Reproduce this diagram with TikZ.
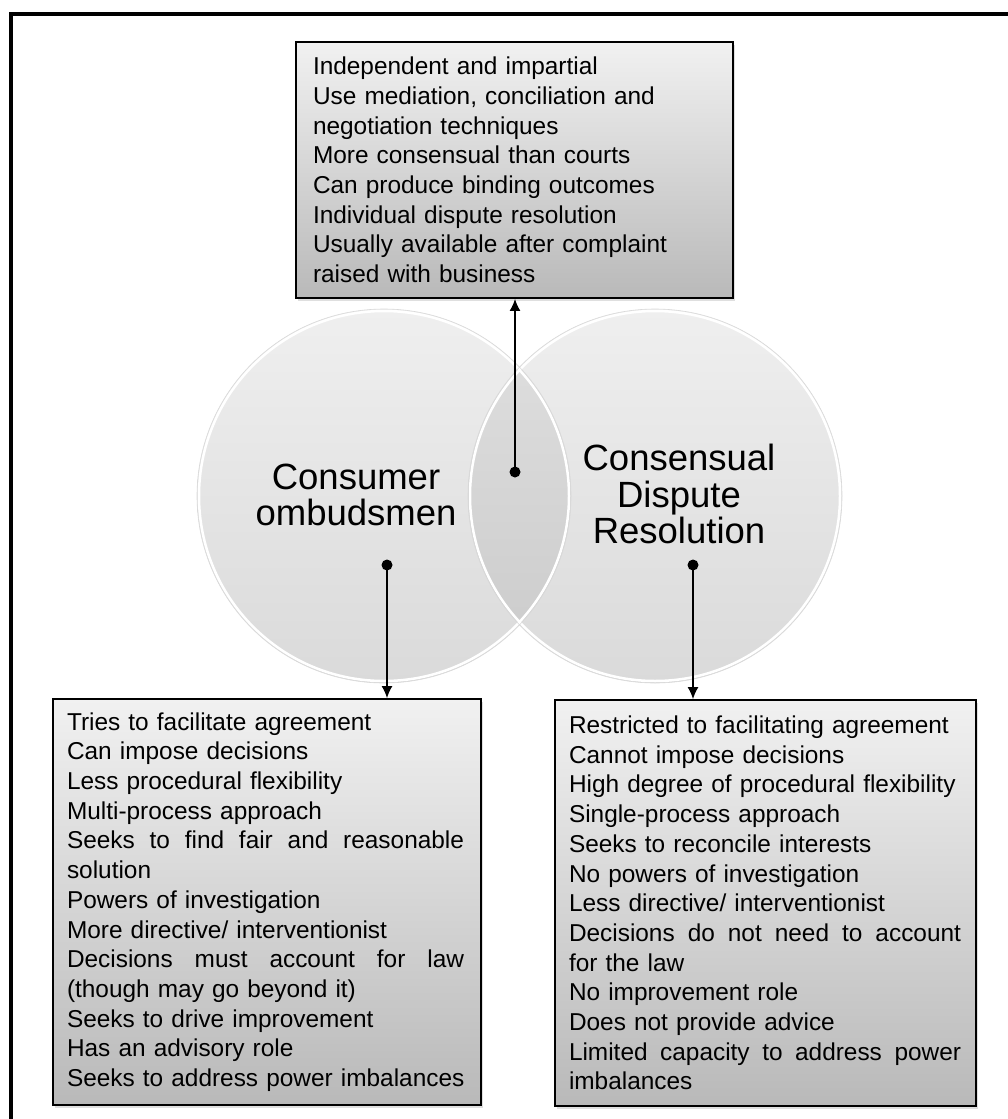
\documentclass[tikz,border=0pt]{standalone}
\usepackage{fontspec}
\setmainfont{Liberation Sans}
\usepackage{xcolor}
\usepackage{tikz}
\usetikzlibrary{arrows.meta,shadows}
\definecolor{boxtop}{HTML}{F1F1F1}
\definecolor{boxbot}{HTML}{B9B9B9}
\definecolor{circtop}{HTML}{EFEFEF}
\definecolor{circbot}{HTML}{DADADA}
\definecolor{lenstop}{HTML}{E0E0E0}
\definecolor{lensbot}{HTML}{CACACA}
% a justified line: words spread with \hfill over the given width
\newcommand{\jline}[2]{\makebox[#1][l]{#2}}

\begin{document}
\begin{tikzpicture}[x=1pt,y=-1pt,
  listbox/.style={draw,line width=1.8pt,top color=boxtop,bottom color=boxbot,
    align=left,inner sep=0pt,font={\fontsize{24.4}{29.7}\selectfont\hyphenpenalty=10000},
    drop shadow={opacity=0.25,shadow xshift=2pt,shadow yshift=-3pt}},
  bigtext/.style={align=center,inner sep=0pt,font={\fontsize{36.5}{36.8}\selectfont}},
  dot/.style={circle,fill,inner sep=0pt,minimum size=11pt},
  link/.style={-{Latex[length=12pt,width=11pt]},line width=1.6pt}]
  \useasboundingbox (0,0) rectangle (1008,1119);
  % frame, open to the right and below
  \draw[line width=4pt] (11,1119) -- (11,14) -- (1008,14);
  % the two circles
  \coordinate (comc) at (384,496);
  \coordinate (cdrc) at (655,496);
  \shade[top color=circtop,bottom color=circbot] (comc) circle (187);
  \shade[top color=circtop,bottom color=circbot] (cdrc) circle (187);
  \begin{scope}
    \clip (comc) circle (187);
    \shade[top color=lenstop,bottom color=lensbot] (cdrc) circle (187);
  \end{scope}
  \draw[white,line width=2.5pt] (comc) circle (185) (cdrc) circle (185);
  \draw[gray!30,line width=0.6pt] (comc) circle (187) (cdrc) circle (187);
  \node[bigtext] (comlabel) at (356,495) {Consumer\\ombudsmen};
  \node[bigtext] (cdrlabel) at (679,494) {Consensual\\Dispute\\Resolution};
  % boxes
  \node[listbox,minimum width=437pt,minimum height=256pt,text width=403pt]
    (shared) at (514.5,170) {Independent and impartial\\
    Use mediation, conciliation and\\
    negotiation techniques\\
    More consensual than courts\\
    Can produce binding outcomes\\
    Individual dispute resolution\\
    Usually available after complaint\\
    raised with business};
  \node[listbox,minimum width=428pt,minimum height=406pt,text width=400pt]
    (combox) at (267,902) {Tries to facilitate agreement\\
    Can impose decisions\\
    Less procedural flexibility\\
    Multi-process approach\\
    \jline{397pt}{Seeks\hfill to\hfill find\hfill fair\hfill and\hfill reasonable}\\
    solution\\
    Powers of investigation\\
    More directive/ interventionist\\
    \jline{397pt}{Decisions\hfill must\hfill account\hfill for\hfill law}\\
    (though may go beyond it)\\
    Seeks to drive improvement\\
    Has an advisory role\\
    Seeks to address power imbalances};
  \node[listbox,minimum width=421pt,minimum height=406pt,text width=393pt]
    (cdrbox) at (765.5,903) {Restricted to facilitating agreement\\
    Cannot impose decisions\\
    High degree of procedural flexibility\\
    Single-process approach\\
    Seeks to reconcile interests\\
    No powers of investigation\\
    Less directive/ interventionist\\
    \jline{392pt}{Decisions\hfill do\hfill not\hfill need\hfill to\hfill account}\\
    for the law\\
    No improvement role\\
    Does not provide advice\\
    \jline{392pt}{Limited\hfill capacity\hfill to\hfill address\hfill power}\\
    imbalances};
  % dots and arrows
  \node[dot] (dmid) at (515,472) {};
  \node[dot] (dcom) at (387,565) {};
  \node[dot] (dcdr) at (693,565) {};
  \draw[link] (dmid.center) -- (dmid |- shared.south);
  \draw[link] (dcom.center) -- (dcom |- combox.north);
  \draw[link] (dcdr.center) -- (dcdr |- cdrbox.north);
\end{tikzpicture}
\end{document}
